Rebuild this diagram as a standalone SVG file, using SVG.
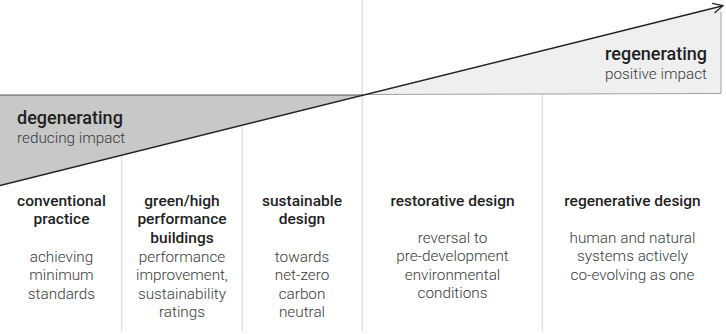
<svg xmlns="http://www.w3.org/2000/svg" width="726" height="334" viewBox="0 0 726 334">
<defs>
<style>
.vl{stroke:#d9d9d9;stroke-width:1.2;fill:none}
.h{font-family:Roboto,"Liberation Sans",sans-serif;font-weight:500;font-size:15.5px;fill:#1f1f1f;text-anchor:middle}
.b{font-family:Roboto,"Liberation Sans",sans-serif;font-weight:300;font-size:15.3px;fill:#3a3a3a;text-anchor:middle}
.big{font-family:Roboto,"Liberation Sans",sans-serif;font-weight:500;font-size:18px;fill:#1f1f1f}
.sub{font-family:Roboto,"Liberation Sans",sans-serif;font-weight:300;font-size:15.3px;fill:#3a3a3a}
</style>
<marker id="arr" markerWidth="14" markerHeight="14" refX="11" refY="6" orient="auto" markerUnits="userSpaceOnUse">
<path d="M1,1 L11,6 L1,11" fill="none" stroke="#222" stroke-width="1.3"/>
</marker>
</defs>
<rect width="726" height="334" fill="#fff"/>
<g id="dividers">
<line class="vl" x1="121.7" y1="155" x2="121.7" y2="331"/>
<line class="vl" x1="242.3" y1="125" x2="242.3" y2="331"/>
<line class="vl" x1="362.3" y1="0" x2="362.3" y2="331"/>
<line class="vl" x1="542.3" y1="94" x2="542.3" y2="331"/>
</g>
<g id="degenerating">
<polygon points="0,95 362.3,95 0,185.5" fill="#c8c8c8"/>
<line x1="0" y1="95" x2="362.3" y2="95" stroke="#555" stroke-width="1"/>
<text class="big" x="17" y="124">degenerating</text>
<text class="sub" x="17" y="142.5">reducing impact</text>
</g>
<g id="regenerating">
<polygon points="362.3,94.5 721,6.3 721,93.5" fill="#efefef"/>
<polyline points="721,12 721,93.5 362.3,94.5" fill="none" stroke="#a0a0a0" stroke-width="1"/>
<text class="big" x="707" y="60" text-anchor="end">regenerating</text>
<text class="sub" x="707" y="79" text-anchor="end">positive impact</text>
</g>
<g id="connectors">
<line x1="0" y1="185.5" x2="723" y2="5.7" stroke="#222" stroke-width="1.4" marker-end="url(#arr)"/>
</g>
<g id="conventional">
<text class="h" x="61.5" y="205.5">conventional</text>
<text class="h" x="61.5" y="224">practice</text>
<text class="b" x="61.5" y="261.5">achieving</text>
<text class="b" x="61.5" y="280">minimum</text>
<text class="b" x="61.5" y="298.5">standards</text>
</g>
<g id="green">
<text class="h" x="182" y="205.5">green/high</text>
<text class="h" x="182" y="224">performance</text>
<text class="h" x="182" y="242.5">buildings</text>
<text class="b" x="182" y="261.5">performance</text>
<text class="b" x="182" y="280">improvement,</text>
<text class="b" x="182" y="298.5">sustainability</text>
<text class="b" x="182" y="317">ratings</text>
</g>
<g id="sustainable">
<text class="h" x="302" y="205.5">sustainable</text>
<text class="h" x="302" y="224">design</text>
<text class="b" x="302" y="261.5">towards</text>
<text class="b" x="302" y="280">net-zero</text>
<text class="b" x="302" y="298.5">carbon</text>
<text class="b" x="302" y="317">neutral</text>
</g>
<g id="restorative">
<text class="h" x="452.5" y="205.5">restorative design</text>
<text class="b" x="452.5" y="242.5">reversal to</text>
<text class="b" x="452.5" y="261">pre-development</text>
<text class="b" x="452.5" y="279.5">environmental</text>
<text class="b" x="452.5" y="298">conditions</text>
</g>
<g id="regenerative">
<text class="h" x="632.5" y="205.5">regenerative design</text>
<text class="b" x="632.5" y="242.5">human and natural</text>
<text class="b" x="632.5" y="261">systems actively</text>
<text class="b" x="632.5" y="279.5">co-evolving as one</text>
</g>
</svg>
